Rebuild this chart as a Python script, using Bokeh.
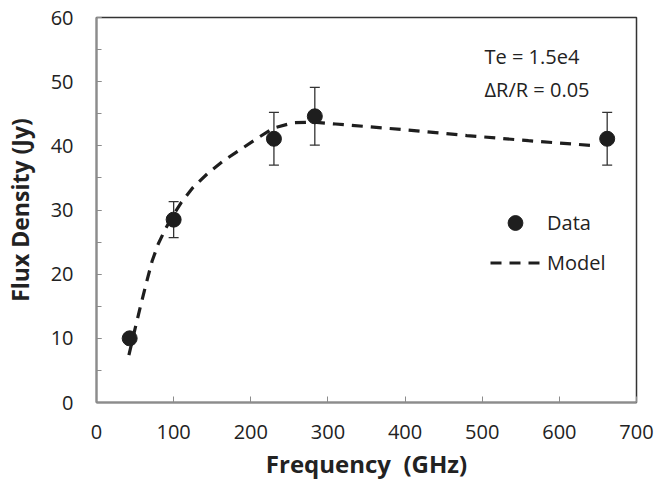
from bokeh.plotting import figure
from bokeh.models import (ColumnDataSource, Whisker, TeeHead, Legend, LegendItem,
                          Label, SingleIntervalTicker, Range1d)
from bokeh.embed import file_html
from bokeh.resources import INLINE

# ---- data ----
freq = [43, 100, 230, 283, 662]
flux = [10.0, 28.5, 41.1, 44.6, 41.1]
err = [0.5, 2.8, 4.1, 4.5, 4.1]

model_freq = [42, 50, 57, 65, 72, 80, 90, 100, 110, 125, 145, 165, 190, 210,
              230, 255, 280, 310, 400, 480, 560, 648]
model_flux = [7.4, 11.5, 15.0, 18.8, 22.0, 24.7, 27.2, 29.3, 31.2, 33.5, 35.8,
              37.7, 39.7, 41.3, 42.8, 43.6, 43.7, 43.4, 42.5, 41.6, 40.8, 40.0]

x_ticks = [0, 100, 200, 300, 400, 500, 600, 700]
annot_lines = ["Te = 1.5e4", "\u0394R/R = 0.05"]
annot_x = 503
annot_y = [53.9, 48.8]

FONT = "Open Sans"
AXIS_GRAY = "#8c8c8c"
DARK = "#1e1e1e"
TXT = "#222222"

p = figure(width=654, height=482, output_backend="svg", toolbar_location=None,
           x_range=Range1d(0, 700), y_range=Range1d(0, 60),
           min_border_left=94, min_border_right=18, min_border_top=17,
           min_border_bottom=80)
p.grid.visible = False
p.outline_line_color = "#333333"
p.outline_line_width = 1.5
p.background_fill_color = "white"
p.border_fill_color = "white"

# axes
for ax in (p.xaxis[0], p.yaxis[0]):
    ax.axis_line_color = AXIS_GRAY
    ax.axis_line_width = 2
    ax.major_tick_line_color = AXIS_GRAY
    ax.minor_tick_line_color = AXIS_GRAY
    ax.major_tick_in = 6
    ax.major_tick_out = 0
    ax.major_label_text_font = FONT
    ax.major_label_text_font_size = "20px"
    ax.major_label_text_color = TXT
    ax.axis_label_text_font = FONT
    ax.axis_label_text_font_style = "bold"
    ax.axis_label_text_color = TXT

p.xaxis.ticker = x_ticks
p.xaxis.minor_tick_line_color = None
p.xaxis.major_label_standoff = 22
p.xaxis.axis_label = "Frequency\u00a0 (GHz)"
p.xaxis.axis_label_text_font_size = "24px"
p.xaxis.axis_label_standoff = 5

p.yaxis.ticker = SingleIntervalTicker(interval=10, num_minor_ticks=2)
p.yaxis.major_tick_in = 5
p.yaxis.minor_tick_in = 5
p.yaxis.minor_tick_out = 0
p.yaxis.major_label_standoff = 23
p.yaxis.axis_label = "Flux Density (Jy)"
p.yaxis.axis_label_text_font_size = "23px"
p.yaxis.axis_label_standoff = 12

# model line
model_src = ColumnDataSource(dict(x=model_freq, y=model_flux))
model_r = p.line("x", "y", source=model_src, line_color=DARK, line_width=3.2,
                 line_dash="11 8")

# error bars
upper = [f + e for f, e in zip(flux, err)]
lower = [f - e for f, e in zip(flux, err)]
data_src = ColumnDataSource(dict(x=freq, y=flux, upper=upper, lower=lower))
wh = Whisker(base="x", upper="upper", lower="lower", source=data_src,
             line_color="#333333", line_width=1.3,
             upper_head=TeeHead(size=10, line_color="#333333", line_width=1.3),
             lower_head=TeeHead(size=10, line_color="#333333", line_width=1.3))
p.add_layout(wh)

data_r = p.scatter("x", "y", source=data_src, size=15, color=DARK)

# legend
legend = Legend(items=[LegendItem(label="Data", renderers=[data_r]),
                       LegendItem(label="Model", renderers=[model_r])],
                location=(394, 121), orientation="vertical",
                glyph_width=50, glyph_height=37, label_height=20, spacing=3,
                padding=0, margin=0, label_standoff=7, border_line_color=None,
                background_fill_alpha=0, label_text_font=FONT,
                label_text_font_size="20px", label_text_color=TXT)
p.add_layout(legend)

# annotation text
for txt, yv in zip(annot_lines, annot_y):
    p.add_layout(Label(x=annot_x, y=yv, text=txt, text_font=FONT,
                       text_font_size="20px", text_color=TXT,
                       text_baseline="middle", text_align="left"))

open("out.html", "w").write(file_html(p, INLINE))
